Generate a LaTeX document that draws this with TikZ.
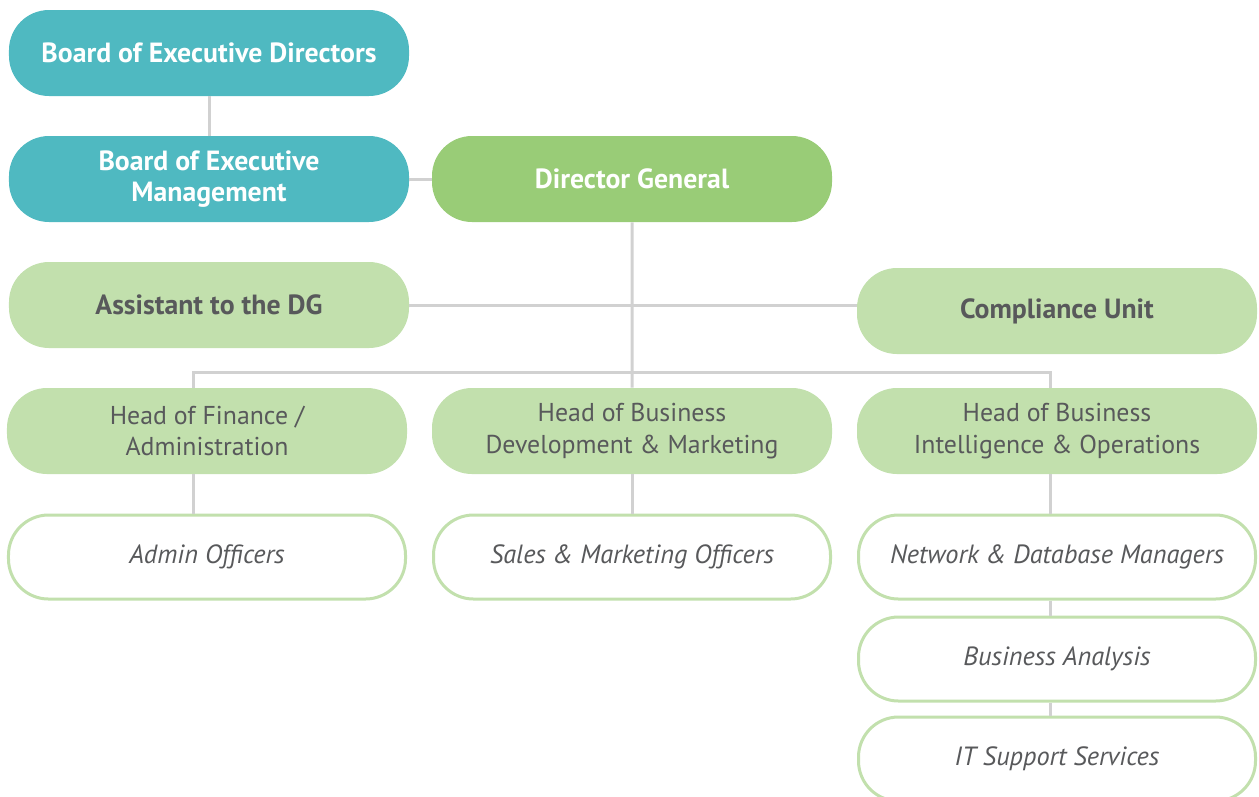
\documentclass[tikz,border=0pt]{standalone}
\usepackage{fontspec}
\setmainfont{PT Sans}
\usetikzlibrary{shapes.geometric, arrows}
\definecolor{teal}{HTML}{4FB9C1}
\definecolor{dggreen}{HTML}{99CC77}
\definecolor{lightgreen}{HTML}{C2E0AD}
\definecolor{textgray}{HTML}{58595B}
\definecolor{linegray}{HTML}{D1D1D1}
\tikzstyle{box} = [rectangle, rounded corners=0.8cm, minimum width=8cm, minimum height=1.72cm, text centered, align=center, font=\fontsize{14.7}{18}\selectfont]
\tikzstyle{board} = [box, fill=teal, text=white, font=\fontsize{15.8}{17.5}\selectfont\bfseries]
\tikzstyle{director} = [box, fill=dggreen, text=white, font=\fontsize{15.8}{17.5}\selectfont\bfseries]
\tikzstyle{staff} = [box, fill=lightgreen, text=textgray, font=\fontsize{15.8}{17.5}\selectfont\bfseries]
\tikzstyle{head} = [box, fill=lightgreen, text=textgray]
\tikzstyle{officer} = [box, minimum width=7.94cm, minimum height=1.68cm, draw=lightgreen, line width=0.06cm, fill=white, text=textgray, font=\fontsize{15}{17.5}\selectfont\itshape]
\tikzstyle{link} = [draw=linegray, line width=0.06cm]

\begin{document}
\begin{tikzpicture}[node distance=2.52cm]

\useasboundingbox (-4.18,1.06) rectangle (21.00,-14.86);

\node (bed) [board] {Board of Executive Directors};
\node (bem) [board, below of=bed] {Board of Executive\\Management};
\node (dg) [director, right of=bem, xshift=5.94cm] {Director General};
\node (asst) [staff, below of=bem] {Assistant to the DG};
\node (comp) [staff, right of=asst, xshift=14.44cm, yshift=-0.12cm] {Compliance Unit};
\node (hfin) [head, below of=asst, xshift=-0.04cm] {Head of Finance /\\Administration};
\node (hbd) [head, right of=hfin, xshift=5.98cm] {Head of Business\\Development \& Marketing};
\node (hbi) [head, right of=hbd, xshift=5.98cm] {Head of Business\\Intelligence \& Operations};
\node (admin) [officer, below of=hfin] {Admin Officers};
\node (sales) [officer, below of=hbd] {Sales \& Marketing Officers};
\node (net) [officer, below of=hbi] {Network \& Database Managers};
\node (ba) [officer, below of=net, yshift=0.48cm] {Business Analysis};
\node (itsup) [officer, below of=ba, yshift=0.52cm] {IT Support Services};
\node (bus) [coordinate, below of=dg, yshift=-1.34cm] {};

\draw [link] (bed) -- (bem);
\draw [link] (bem) -- (dg);
\draw [link] (dg) -- (hbd);
\draw [link] (asst.east) -- (asst.east -| comp.west);
\draw [link] ([xshift=-0.28cm]hfin.north) |- (bus) -| ([xshift=-0.14cm]hbi.north);
\draw [link] ([xshift=-0.28cm]hfin.south) -- ([xshift=-0.28cm]admin.north);
\draw [link] (hbd) -- (sales);
\draw [link] ([xshift=-0.14cm]hbi.south) -- ([xshift=-0.14cm]net.north);
\draw [link] ([xshift=-0.14cm]net.south) -- ([xshift=-0.14cm]ba.north);
\draw [link] ([xshift=-0.14cm]ba.south) -- ([xshift=-0.14cm]itsup.north);

\end{tikzpicture}
\end{document}
